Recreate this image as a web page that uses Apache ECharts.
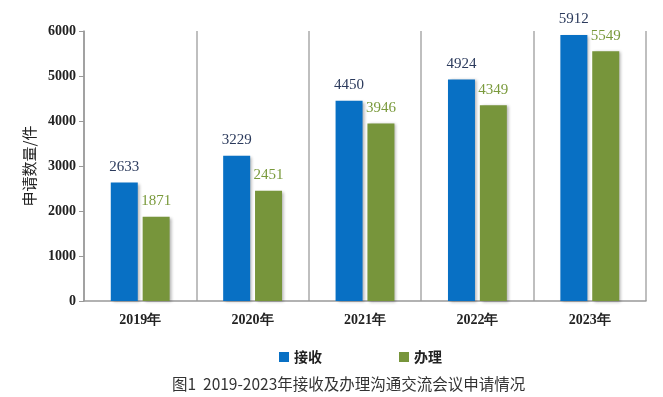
<!DOCTYPE html>
<html>
<head>
<meta charset="utf-8">
<script src="https://cdn.jsdelivr.net/npm/echarts@6/dist/echarts.min.js"></script>
<style>
  html, body { margin: 0; padding: 0; background: #fff; }
  #chart { width: 663px; height: 397px; }
</style>
</head>
<body>
<div id="chart"></div>
<script>
// 数据
var years = ['2019年', '2020年', '2021年', '2022年', '2023年'];
var received = [2633, 3229, 4450, 4924, 5912];
var handled = [1871, 2451, 3946, 4349, 5549];
var yTicks = [0, 1000, 2000, 3000, 4000, 5000, 6000];

var serif = '"Liberation Serif", "DejaVu Serif", serif';
var cjk = '"Noto Sans CJK SC", sans-serif';

var myChart = echarts.init(document.getElementById('chart'));

var option = {
    animation: false,
    title: {
        text: '图1  2019-2023年接收及办理沟通交流会议申请情况',
        left: 167,
        top: 371,
        textStyle: { color: '#333', fontSize: 15.5, fontWeight: 'normal', fontFamily: cjk }
    },
    legend: {
        data: ['接收', '办理'],
        left: 274,
        top: 345,
        itemWidth: 10,
        itemHeight: 10,
        itemGap: 77,
        icon: 'rect',
        textStyle: { color: '#222', fontSize: 14, fontWeight: 'bold', fontFamily: cjk }
    },
    grid: { left: 84, right: 17, top: 31, bottom: 96 },
    xAxis: {
        type: 'category',
        data: years,
        axisLine: { lineStyle: { color: '#999', width: 1.5 } },
        axisTick: { show: false },
        axisLabel: { color: '#222', fontSize: 14, fontWeight: 'bold', fontFamily: serif, margin: 12 },
        splitLine: { show: true, lineStyle: { color: '#aaa', width: 1.5 } }
    },
    yAxis: {
        type: 'value',
        min: yTicks[0],
        max: yTicks[yTicks.length - 1],
        interval: 1000,
        name: '申请数量/件',
        nameLocation: 'middle',
        nameRotate: 90,
        nameGap: 46,
        nameTextStyle: { color: '#222', fontSize: 15, fontFamily: cjk },
        axisLine: { show: true, lineStyle: { color: '#999', width: 1.5 } },
        axisTick: { show: true, length: 5, lineStyle: { color: '#999' } },
        axisLabel: {
            color: '#222', fontSize: 14, fontWeight: 'bold', fontFamily: serif, margin: 8,
            formatter: function (v) { return String(v); }
        },
        splitLine: { show: false }
    },
    series: [
        {
            name: '接收',
            type: 'bar',
            data: received,
            barWidth: 27,
            barGap: '18%',
            itemStyle: {
                color: '#0870c4',
                shadowColor: 'rgba(0,0,0,0.3)', shadowBlur: 3, shadowOffsetX: 2, shadowOffsetY: 1
            },
            label: {
                show: true, position: 'top', distance: 8,
                color: '#2b3a5c', fontSize: 15, fontFamily: serif
            }
        },
        {
            name: '办理',
            type: 'bar',
            data: handled,
            barWidth: 27,
            itemStyle: {
                color: '#77953b',
                shadowColor: 'rgba(0,0,0,0.3)', shadowBlur: 3, shadowOffsetX: 2, shadowOffsetY: 1
            },
            label: {
                show: true, position: 'top', distance: 8,
                color: '#7a9a3c', fontSize: 15, fontFamily: serif
            }
        }
    ]
};

myChart.setOption(option);
</script>
</body>
</html>
